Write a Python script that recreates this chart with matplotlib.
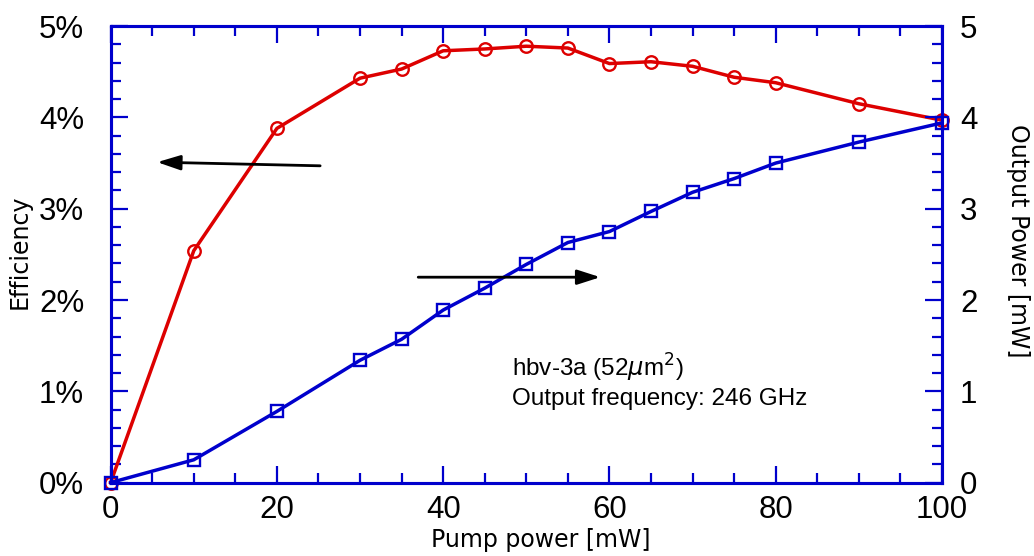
import matplotlib
matplotlib.use("Agg")
import matplotlib.pyplot as plt
from matplotlib.ticker import MultipleLocator, FuncFormatter

plt.rcParams["font.family"] = ["Liberation Sans", "DejaVu Sans"]

pump_power = [0, 10, 20, 30, 35, 40, 45, 50, 55, 60, 65, 70, 75, 80, 90, 100]
efficiency = [0, 2.54, 3.88, 4.43, 4.53, 4.73, 4.75, 4.78, 4.76, 4.59, 4.61, 4.56, 4.44, 4.38, 4.15, 3.97]
output_power = [0, 0.25, 0.78, 1.34, 1.57, 1.89, 2.13, 2.39, 2.63, 2.75, 2.97, 3.18, 3.33, 3.50, 3.73, 3.94]

RED = "#DD0000"
BLUE = "#0000CC"

fig = plt.figure(figsize=(10.34, 5.56), dpi=100)
ax = fig.add_axes([0.107, 0.132, 0.804, 0.821])
ax2 = ax.twinx()

ax.plot(pump_power, efficiency, color=RED, lw=2.5, marker="o", ms=9,
        mfc="none", mew=1.7, clip_on=False, zorder=3)
ax2.plot(pump_power, output_power, color=BLUE, lw=2.5, marker="s", ms=9,
         mfc="none", mew=1.7, clip_on=False, zorder=3)

ax.set_xlim(0, 100)
ax.set_ylim(0, 5)
ax2.set_ylim(0, 5)

for a in (ax, ax2):
    for sp in a.spines.values():
        sp.set_color(BLUE)
        sp.set_linewidth(2.2)

ax.xaxis.set_major_locator(MultipleLocator(20))
ax.xaxis.set_minor_locator(MultipleLocator(5))
ax.yaxis.set_major_locator(MultipleLocator(1))
ax.yaxis.set_minor_locator(MultipleLocator(0.2))
ax2.yaxis.set_major_locator(MultipleLocator(1))
ax2.yaxis.set_minor_locator(MultipleLocator(0.2))
ax.yaxis.set_major_formatter(FuncFormatter(lambda v, p: f"{v:g}%"))

ax.tick_params(axis="x", which="both", direction="in", top=True, color=BLUE,
               labelsize=22.5, pad=9)
ax.tick_params(axis="y", which="both", direction="in", color=BLUE,
               labelsize=22.5, pad=19)
ax2.tick_params(axis="y", which="both", direction="in", color=BLUE,
                labelsize=22.5, pad=13)
for a in (ax, ax2):
    a.tick_params(which="major", length=12, width=1.6)
    a.tick_params(which="minor", length=7, width=1.6)

label_font = dict(fontsize=17, family="DejaVu Sans", va="center")
ax.set_xlabel("Pump power [mW]", **label_font)
ax.set_ylabel("Efficiency", **label_font)
ax2.set_ylabel("Output Power [mW]", rotation=270, **label_font)
ax.xaxis.set_label_coords(0.517, -0.125)
ax.yaxis.set_label_coords(-0.109, 0.505)
ax2.yaxis.set_label_coords(1.091, 0.53)

arrow_style = dict(arrowstyle="-|>,head_length=1.4,head_width=0.45",
                   color="black", lw=2.0, shrinkA=0, shrinkB=0)
ax2.annotate("", xy=(5.6, 3.51), xytext=(25.2, 3.47), arrowprops=arrow_style)
ax2.annotate("", xy=(58.9, 2.25), xytext=(37.0, 2.25), arrowprops=arrow_style)

ax2.text(48.3, 1.16, "hbv-3a (52$\\mu$m$^2$)", fontsize=17.5)
ax2.text(48.3, 0.85, "Output frequency: 246 GHz", fontsize=17.5)

fig.savefig("out.png", dpi=100)
